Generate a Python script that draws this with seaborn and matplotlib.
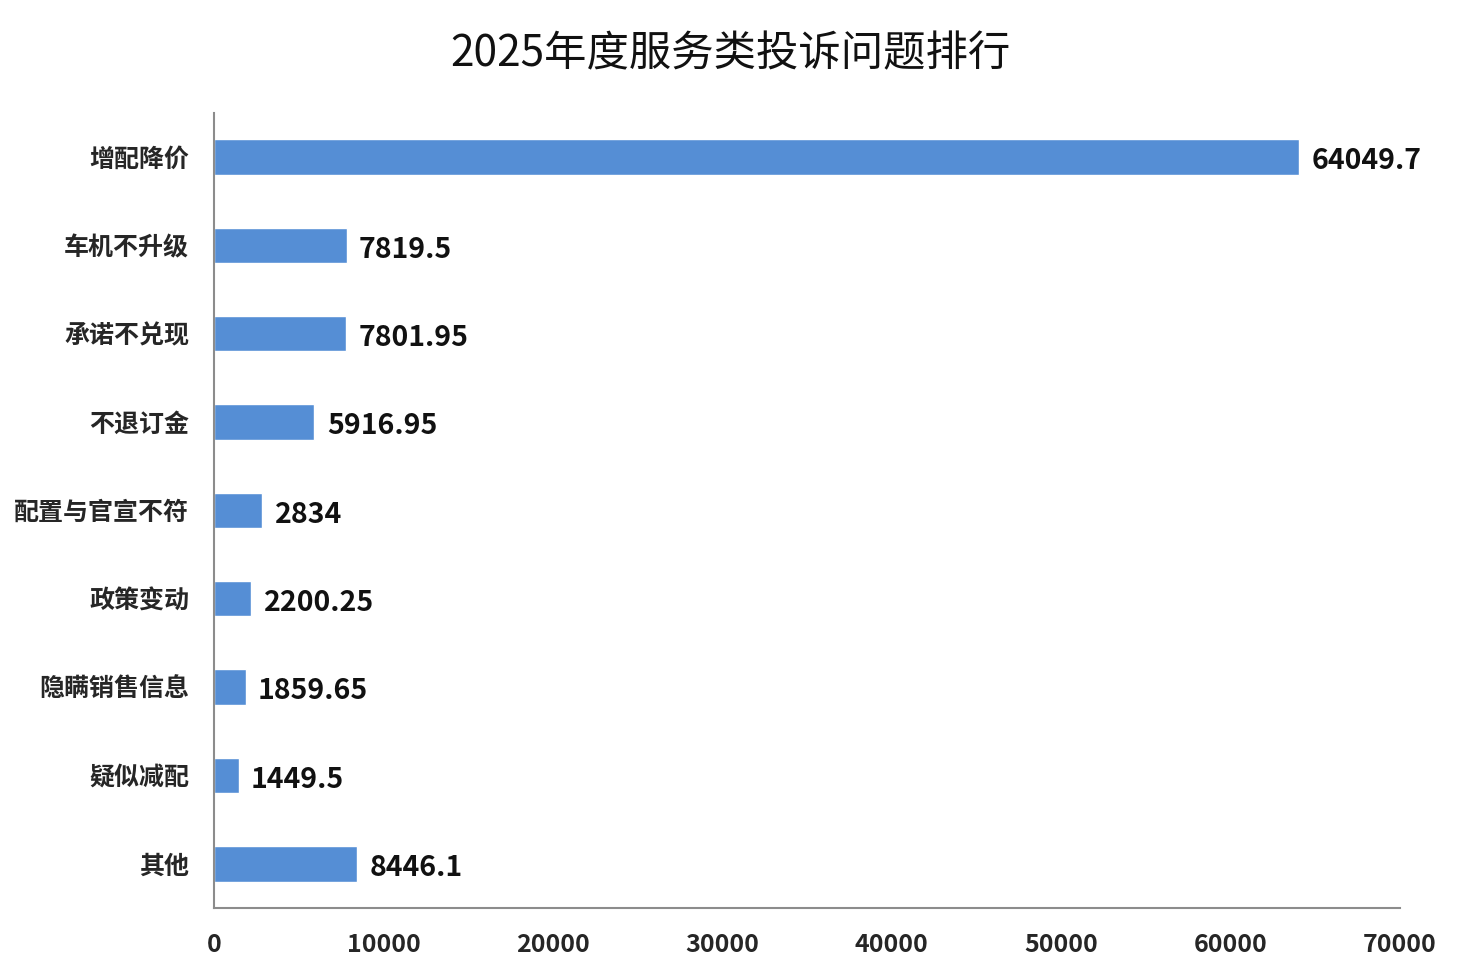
import matplotlib
matplotlib.use("Agg")
import matplotlib.pyplot as plt
import seaborn as sns
import pandas as pd

categories = ["增配降价", "车机不升级", "承诺不兑现", "不退订金", "配置与官宣不符",
              "政策变动", "隐瞒销售信息", "疑似减配", "其他"]
values = [64049.7, 7819.5, 7801.95, 5916.95, 2834, 2200.25, 1859.65, 1449.5, 8446.1]
xticks = [0, 10000, 20000, 30000, 40000, 50000, 60000, 70000]
title = "2025年度服务类投诉问题排行"

sns.set_theme(style="white")
plt.rcParams['font.family'] = ['Noto Sans CJK SC', 'DejaVu Sans']

df = pd.DataFrame({"category": categories, "value": values})

fig = plt.figure(figsize=(14.6, 9.73), dpi=100)
ax = fig.add_axes([0.1466, 0.0668, 0.8123, 0.8171])

sns.barplot(data=df, y="category", x="value", orient="h", color="#558ED5",
            saturation=1, width=0.4, ax=ax)

anns = ax.bar_label(ax.containers[0], fmt="{:g}", padding=9, fontsize=20.5,
                    fontweight="bold", color="#111111")
for a in anns:
    a.xyann = (9, -3)

ax.set_xlim(0, 70000)
ax.set_ylim(len(categories) - 0.5, -0.5)
ax.set_xticks(xticks)
ax.set_xticklabels([str(t) for t in xticks], fontsize=18, fontweight="bold")
for lbl in ax.get_yticklabels():
    lbl.set_fontsize(18)
    lbl.set_fontweight("bold")
ax.tick_params(axis="y", length=0, pad=18)
ax.tick_params(axis="x", length=0, pad=18)
ax.set_xlabel("")
ax.set_ylabel("")

for s in ["top", "right"]:
    ax.spines[s].set_visible(False)
for s in ["left", "bottom"]:
    ax.spines[s].set_color("#8c8c8c")
    ax.spines[s].set_linewidth(1.5)

fig.text(0.5, 0.944, title, ha="center", va="center", fontsize=30.5, color="#111111")

fig.savefig("out.png", dpi=100, facecolor="white")
